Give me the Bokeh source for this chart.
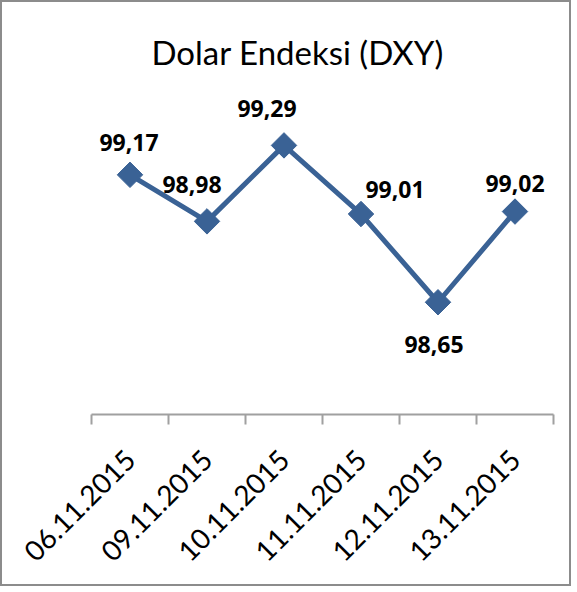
from bokeh.plotting import figure
from bokeh.models import ColumnDataSource, LabelSet, FixedTicker, Range1d
from bokeh.core.properties import value
from bokeh.embed import file_html
from bokeh.resources import INLINE
import math

# ---- data ----
dates = ["06.11.2015", "09.11.2015", "10.11.2015", "11.11.2015", "12.11.2015", "13.11.2015"]
values = [99.17, 98.98, 99.29, 99.01, 98.65, 99.02]
value_labels = [f"{v:.2f}".replace(".", ",") for v in values]

# ---- label placement (screen px offsets, styling only) ----
label_dx = [-1, -15, -17, 34, -4, 0]
label_dy = [32, 37, 37, 25, -42, 28]

n = len(dates)
xs = [i + 0.5 for i in range(n)]

src = ColumnDataSource(dict(x=xs, y=values, lab=value_labels, dx=label_dx, dy=label_dy))

LINE = "#3A6295"

p = figure(width=571, height=586, output_backend="svg", toolbar_location=None,
           x_range=Range1d(0, n), y_range=Range1d(98.192, 99.514),
           min_border_left=89, min_border_right=20, min_border_top=88, min_border_bottom=174)
p.styles = {"border": "2px solid #8c8c8c"}
p.outline_line_color = None
p.xgrid.visible = False
p.ygrid.visible = False
p.yaxis.visible = False

p.title.text = "Dolar Endeksi (DXY)"
p.title.align = "left"
p.title.offset = 60
p.title.text_font = "Lato"
p.title.text_font_size = "33px"
p.title.text_font_style = "normal"
p.title.text_color = "#000000"
p.title.standoff = 37

ax = p.xaxis[0]
ax.ticker = FixedTicker(ticks=xs, minor_ticks=list(range(n + 1)))
ax.major_label_overrides = {x: d for x, d in zip(xs, dates)}
ax.major_label_orientation = math.pi / 4
ax.major_label_text_font = "Lato"
ax.major_label_text_font_size = "28px"
ax.major_label_text_color = "#000000"
ax.major_tick_line_color = None
ax.major_tick_out = 0
ax.major_tick_in = 0
ax.minor_tick_line_color = "#a0a0a0"
ax.minor_tick_line_width = 2
ax.minor_tick_out = 10
ax.minor_tick_in = 0
ax.axis_line_color = "#a0a0a0"
ax.axis_line_width = 2
ax.major_label_standoff = 30

p.line("x", "y", source=src, line_color=LINE, line_width=5)
p.scatter("x", "y", source=src, marker="square", angle=math.pi / 4, size=18,
          fill_color=LINE, line_color=LINE)

labels = LabelSet(x="x", y="y", text="lab", source=src, x_offset="dx", y_offset="dy",
                  text_align="center", text_baseline="middle",
                  text_font=value("Open Sans"), text_font_style="bold",
                  text_font_size=value("23px"), text_color="#000000")
p.add_layout(labels)

open("out.html", "w").write(file_html(p, INLINE))
